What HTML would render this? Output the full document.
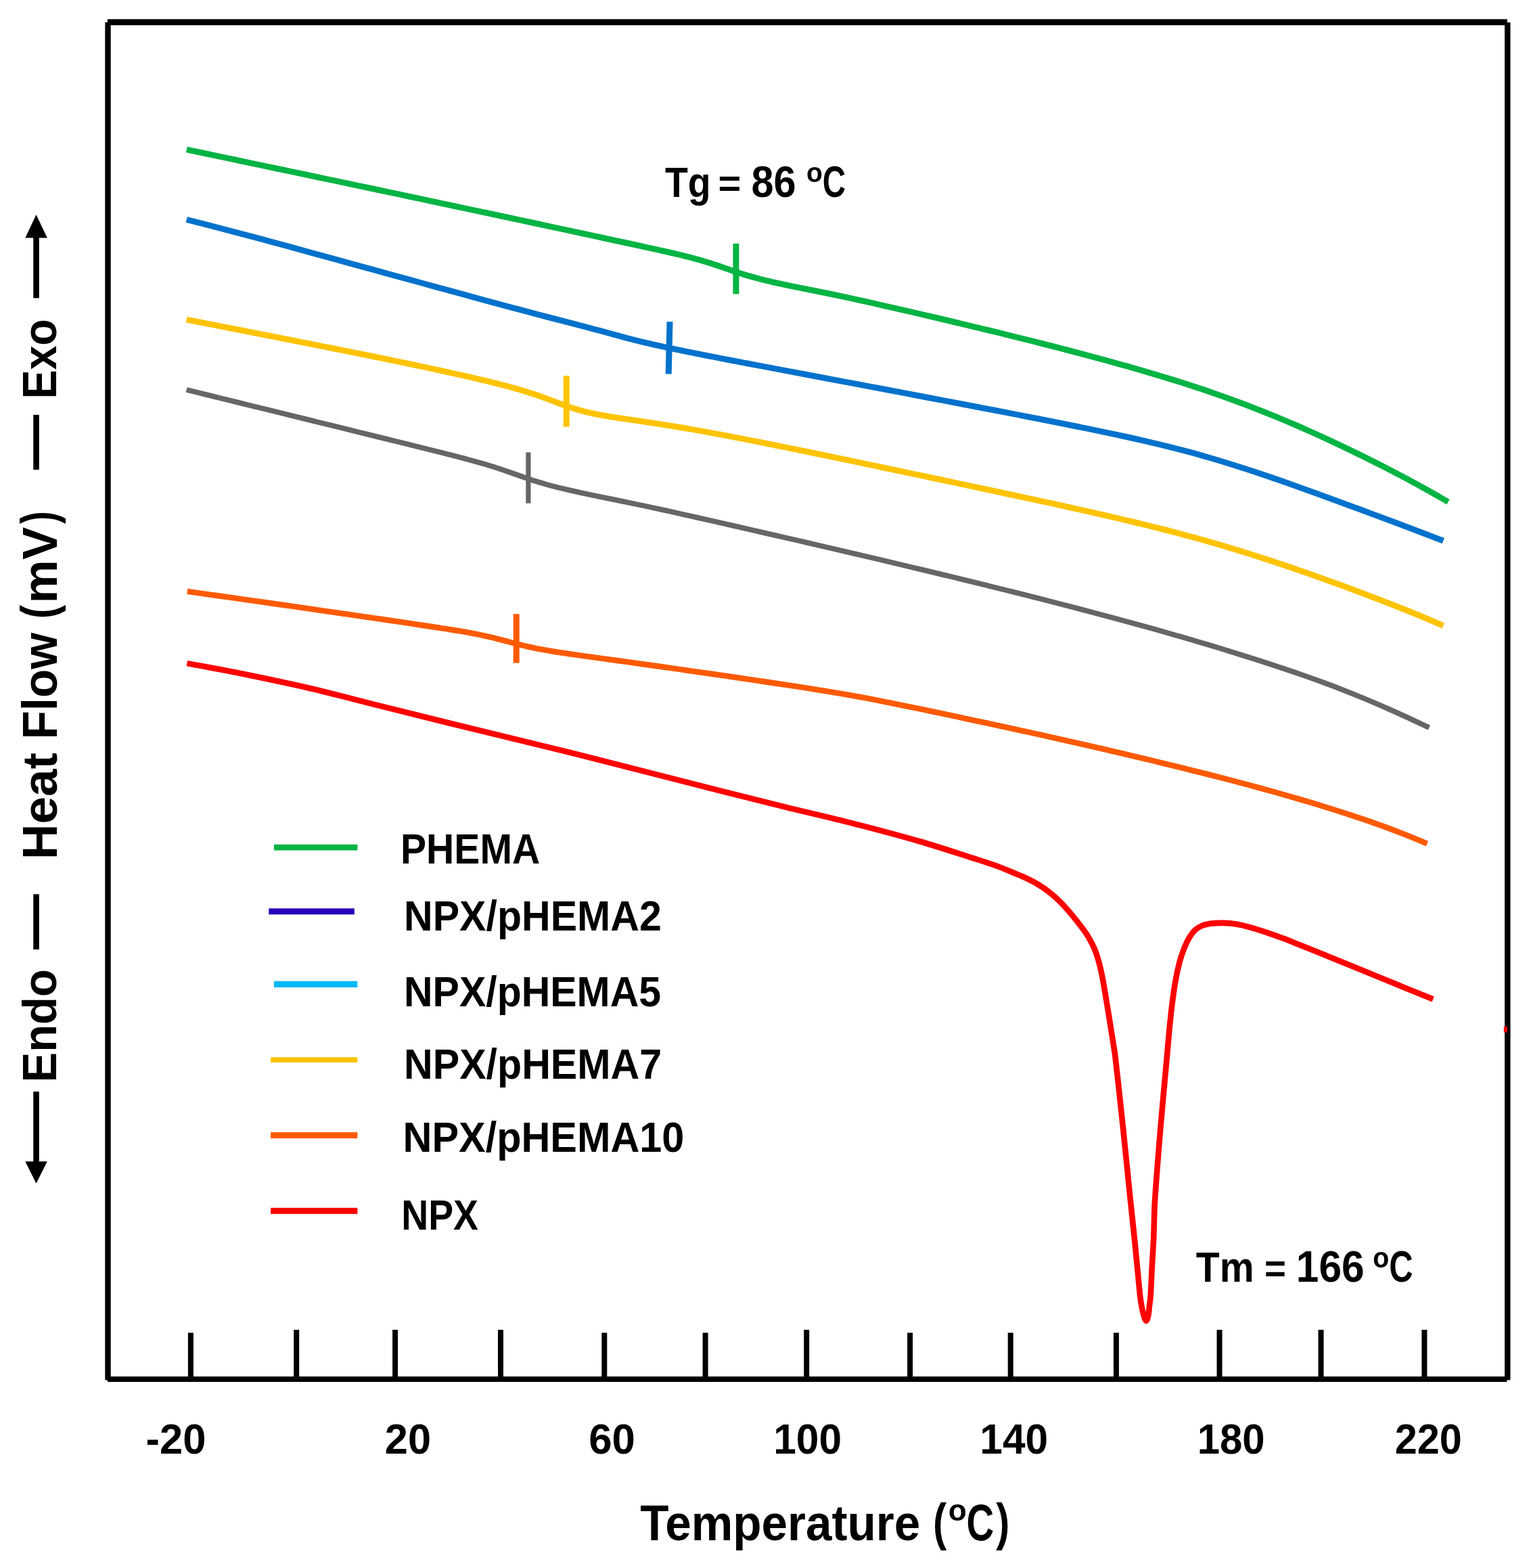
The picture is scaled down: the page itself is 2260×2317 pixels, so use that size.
<!DOCTYPE html>
<html lang="en"><head><meta charset="utf-8"><title>DSC thermograms</title>
<style>html,body{margin:0;padding:0;background:#fff}body{width:2260px;height:2317px;overflow:hidden}svg{display:block}text{font-family:"Liberation Sans",Arial,sans-serif;font-weight:bold;fill:#000}</style>
</head><body>
<svg width="2260" height="2317" viewBox="0 0 2260 2317">
<rect width="2260" height="2317" fill="#fff"/>
<g fill="none" stroke-linejoin="round" stroke-linecap="butt">
<path d="M275.80,221.04 C286.34,223.25 296.87,225.46 307.41,227.67 C317.94,229.88 328.48,232.09 339.01,234.30 C349.55,236.51 360.08,238.73 370.62,240.94 C381.15,243.15 391.69,245.37 402.22,247.58 C412.76,249.80 423.29,252.01 433.83,254.23 C444.36,256.44 454.90,258.66 465.43,260.88 C475.97,263.10 486.50,265.32 497.04,267.54 C507.57,269.76 518.11,271.99 528.64,274.21 C539.18,276.43 549.71,278.66 560.25,280.89 C570.78,283.11 581.32,285.34 591.85,287.57 C602.39,289.80 612.92,292.03 623.46,294.27 C633.99,296.50 644.53,298.74 655.06,300.97 C665.60,303.21 676.13,305.45 686.67,307.69 C697.20,309.93 707.74,312.17 718.27,314.42 C728.81,316.66 739.34,318.91 749.88,321.16 C760.41,323.41 770.95,325.66 781.48,327.92 C792.02,330.17 802.55,332.43 813.09,334.69 C823.62,336.95 834.16,339.21 844.69,341.48 C855.23,343.74 865.76,346.01 876.30,348.27 C886.83,350.54 897.37,352.81 907.90,355.09 C918.44,357.36 928.97,359.63 939.51,361.92 C948.97,363.98 958.44,366.05 967.90,368.13 C968.97,368.36 970.04,368.60 971.11,368.84 C973.37,369.34 975.64,369.84 977.90,370.35 C981.23,371.10 984.57,371.84 987.90,372.60 C991.24,373.37 994.57,374.14 997.90,374.91 C999.51,375.29 1001.11,375.67 1002.72,376.05 C1004.45,376.46 1006.17,376.87 1007.90,377.30 C1011.24,378.12 1014.57,378.94 1017.90,379.79 C1021.24,380.65 1024.57,381.54 1027.90,382.43 C1030.05,383.01 1032.18,383.62 1034.32,384.22 C1035.52,384.56 1036.71,384.90 1037.90,385.26 C1041.24,386.25 1044.58,387.24 1047.90,388.28 C1051.24,389.33 1054.57,390.42 1057.90,391.51 C1060.58,392.40 1063.25,393.32 1065.93,394.23 C1066.59,394.45 1067.24,394.68 1067.90,394.90 C1071.23,396.05 1074.56,397.21 1077.90,398.36 C1081.23,399.50 1084.56,400.65 1087.90,401.76 C1091.10,402.83 1094.32,403.86 1097.53,404.90 C1097.65,404.94 1097.78,404.98 1097.90,405.02 C1101.23,406.03 1104.56,407.08 1107.90,408.05 C1111.22,409.02 1114.56,409.95 1117.90,410.85 C1121.22,411.75 1124.57,412.58 1127.90,413.44 C1128.31,413.54 1128.72,413.64 1129.14,413.74 C1132.06,414.45 1134.97,415.16 1137.90,415.84 C1141.23,416.61 1144.56,417.36 1147.90,418.10 C1151.23,418.84 1154.57,419.55 1157.90,420.26 C1158.85,420.47 1159.79,420.66 1160.74,420.86 C1163.13,421.36 1165.51,421.86 1167.90,422.35 C1171.23,423.04 1174.57,423.71 1177.90,424.39 C1181.23,425.07 1184.57,425.73 1187.90,426.40 C1189.38,426.70 1190.86,427.00 1192.35,427.29 C1194.20,427.66 1196.05,428.03 1197.90,428.40 C1201.23,429.07 1204.57,429.73 1207.90,430.40 C1213.25,431.48 1218.61,432.54 1223.95,433.65 C1234.49,435.83 1245.03,438.02 1255.56,440.30 C1266.10,442.57 1276.63,444.93 1287.16,447.29 C1297.70,449.66 1308.24,452.06 1318.77,454.47 C1329.31,456.89 1339.84,459.32 1350.37,461.76 C1360.91,464.20 1371.45,466.66 1381.98,469.13 C1392.52,471.61 1403.05,474.10 1413.58,476.60 C1424.12,479.11 1434.66,481.63 1445.19,484.17 C1455.73,486.71 1466.26,489.27 1476.79,491.85 C1487.33,494.44 1497.87,497.04 1508.40,499.66 C1518.94,502.29 1529.47,504.94 1540.00,507.62 C1550.54,510.29 1561.08,513.00 1571.61,515.73 C1582.15,518.47 1592.69,521.23 1603.21,524.03 C1613.76,526.84 1624.29,529.67 1634.82,532.55 C1645.36,535.44 1655.90,538.36 1666.42,541.34 C1676.97,544.32 1687.51,547.35 1698.03,550.45 C1708.58,553.55 1719.12,556.71 1729.63,559.95 C1740.19,563.21 1750.73,566.53 1761.24,569.95 C1771.80,573.39 1782.34,576.91 1792.84,580.54 C1803.41,584.20 1813.95,587.95 1824.45,591.81 C1835.02,595.70 1845.56,599.70 1856.05,603.80 C1866.63,607.93 1877.17,612.17 1887.66,616.51 C1898.24,620.88 1908.77,625.35 1919.26,629.91 C1929.84,634.51 1940.37,639.20 1950.87,643.97 C1961.44,648.78 1971.98,653.68 1982.47,658.66 C1993.05,663.68 2003.59,668.78 2014.08,673.96 C2024.66,679.18 2035.19,684.49 2045.68,689.88 C2056.26,695.31 2066.80,700.83 2077.29,706.44 C2087.87,712.10 2098.41,717.85 2108.89,723.69 C2119.48,729.60 2129.96,735.69 2140.50,741.68" stroke="#04B444" stroke-width="8.8"/>
<path d="M1087.90,359.90 L1087.90,434.50" stroke="#04B444" stroke-width="9.0"/>
<path d="M275.80,324.50 C286.29,327.17 296.79,329.83 307.28,332.53 C317.78,335.22 328.28,337.91 338.77,340.65 C349.27,343.39 359.76,346.17 370.25,348.97 C380.75,351.78 391.24,354.64 401.73,357.49 C412.23,360.35 422.72,363.22 433.22,366.09 C443.71,368.96 454.20,371.84 464.70,374.71 C475.19,377.59 485.69,380.46 496.18,383.34 C506.68,386.22 517.17,389.10 527.66,391.97 C538.16,394.85 548.65,397.73 559.15,400.61 C569.64,403.49 580.14,406.37 590.63,409.25 C601.12,412.12 611.62,415.00 622.11,417.88 C632.61,420.75 643.10,423.63 653.60,426.50 C664.09,429.37 674.58,432.23 685.08,435.10 C695.57,437.96 706.07,440.81 716.56,443.66 C727.05,446.50 737.55,449.34 748.05,452.16 C758.54,454.98 769.03,457.79 779.53,460.58 C790.02,463.36 800.51,466.13 811.01,468.87 C821.50,471.62 832.00,474.33 842.49,477.06 C851.36,479.37 860.23,481.68 869.10,484.00 C870.73,484.42 872.35,484.86 873.98,485.29 C875.69,485.74 877.39,486.19 879.10,486.65 C882.43,487.55 885.77,488.44 889.10,489.35 C892.43,490.25 895.77,491.17 899.10,492.08 C901.22,492.66 903.34,493.24 905.46,493.83 C906.67,494.16 907.89,494.49 909.10,494.83 C912.43,495.74 915.76,496.65 919.10,497.55 C922.43,498.45 925.76,499.33 929.10,500.21 C931.71,500.89 934.33,501.56 936.94,502.23 C937.66,502.41 938.38,502.59 939.10,502.77 C942.43,503.59 945.76,504.42 949.10,505.23 C952.43,506.03 955.76,506.81 959.10,507.58 C962.21,508.30 965.32,508.99 968.43,509.70 C968.65,509.75 968.88,509.80 969.10,509.85 C972.43,510.58 975.76,511.32 979.10,512.04 C982.43,512.77 985.77,513.48 989.10,514.18 C992.43,514.89 995.77,515.58 999.10,516.28 C999.37,516.33 999.64,516.39 999.91,516.44 C1002.97,517.07 1006.04,517.71 1009.10,518.33 C1012.43,519.01 1015.77,519.69 1019.10,520.36 C1022.43,521.03 1025.77,521.70 1029.10,522.36 C1029.86,522.52 1030.63,522.67 1031.39,522.82 C1033.96,523.33 1036.53,523.84 1039.10,524.35 C1042.43,525.00 1045.77,525.66 1049.10,526.31 C1052.43,526.96 1055.77,527.61 1059.10,528.26 C1060.36,528.51 1061.62,528.75 1062.88,529.00 C1064.95,529.40 1067.03,529.80 1069.10,530.20 C1072.43,530.85 1075.77,531.49 1079.10,532.13 C1082.43,532.77 1085.77,533.41 1089.10,534.05 C1090.85,534.39 1092.61,534.72 1094.36,535.06 C1095.94,535.36 1097.52,535.66 1099.10,535.96 C1102.43,536.60 1105.77,537.23 1109.10,537.87 C1114.68,538.93 1120.26,539.99 1125.84,541.05 C1136.34,543.03 1146.83,545.02 1157.33,547.00 C1167.82,548.98 1178.31,550.95 1188.81,552.93 C1199.30,554.90 1209.80,556.88 1220.29,558.85 C1230.79,560.83 1241.28,562.80 1251.77,564.78 C1262.27,566.75 1272.76,568.73 1283.26,570.71 C1293.75,572.69 1304.25,574.67 1314.74,576.65 C1325.24,578.64 1335.73,580.62 1346.22,582.61 C1356.72,584.60 1367.21,586.59 1377.71,588.59 C1388.20,590.59 1398.70,592.58 1409.19,594.59 C1419.68,596.59 1430.18,598.60 1440.67,600.61 C1451.17,602.62 1461.66,604.64 1472.16,606.66 C1482.65,608.69 1493.15,610.72 1503.64,612.76 C1514.13,614.80 1524.63,616.84 1535.12,618.90 C1545.62,620.97 1556.11,623.03 1566.61,625.13 C1577.10,627.22 1587.60,629.32 1598.09,631.46 C1608.59,633.59 1619.08,635.74 1629.57,637.94 C1640.07,640.15 1650.57,642.37 1661.05,644.67 C1671.56,646.97 1682.06,649.30 1692.54,651.73 C1703.05,654.16 1713.55,656.65 1724.02,659.25 C1734.54,661.86 1745.04,664.55 1755.50,667.35 C1766.03,670.17 1776.52,673.10 1786.99,676.13 C1797.51,679.18 1808.00,682.34 1818.47,685.59 C1828.99,688.86 1839.48,692.24 1849.95,695.68 C1860.47,699.14 1870.96,702.70 1881.44,706.29 C1891.95,709.90 1902.44,713.59 1912.92,717.30 C1923.43,721.02 1933.92,724.79 1944.40,728.58 C1954.91,732.38 1965.40,736.22 1975.88,740.07 C1986.39,743.92 1996.88,747.80 2007.37,751.69 C2017.87,755.59 2028.36,759.50 2038.85,763.42 C2049.35,767.35 2059.84,771.29 2070.33,775.23 C2080.83,779.18 2091.33,783.14 2101.82,787.11 C2112.31,791.08 2122.81,795.07 2133.30,799.05" stroke="#0072CC" stroke-width="8.8"/>
<path d="M990.00,475.30 L988.20,552.60" stroke="#0072CC" stroke-width="9.0"/>
<path d="M275.70,472.28 C286.19,474.33 296.69,476.38 307.18,478.43 C317.68,480.49 328.17,482.54 338.67,484.59 C349.16,486.65 359.66,488.70 370.15,490.76 C380.65,492.82 391.14,494.87 401.64,496.94 C412.13,499.00 422.63,501.06 433.12,503.13 C443.62,505.20 454.11,507.27 464.61,509.35 C475.10,511.42 485.60,513.51 496.09,515.60 C506.59,517.69 517.09,519.78 527.58,521.90 C538.08,524.01 548.57,526.12 559.06,528.26 C569.56,530.40 580.06,532.55 590.55,534.72 C601.05,536.90 611.54,539.09 622.03,541.31 C632.53,543.54 643.03,545.79 653.52,548.08 C664.02,550.37 674.52,552.69 685.00,555.08 C695.51,557.47 705.99,559.96 716.49,562.40 C716.72,562.46 716.96,562.51 717.20,562.57 C720.53,563.38 723.87,564.18 727.20,565.00 C730.54,565.81 733.87,566.64 737.20,567.48 C740.54,568.33 743.87,569.20 747.20,570.05 C747.46,570.12 747.71,570.19 747.97,570.26 C751.05,571.08 754.13,571.88 757.20,572.73 C760.54,573.64 763.87,574.57 767.20,575.54 C770.54,576.50 773.87,577.52 777.20,578.52 C777.95,578.74 778.71,578.98 779.46,579.22 C782.04,580.04 784.63,580.85 787.20,581.71 C790.54,582.82 793.88,583.95 797.20,585.12 C800.54,586.30 803.87,587.53 807.20,588.74 C808.45,589.20 809.69,589.67 810.94,590.14 C813.03,590.93 815.11,591.72 817.20,592.51 C820.53,593.77 823.86,595.05 827.20,596.29 C830.53,597.52 833.86,598.74 837.20,599.93 C838.93,600.55 840.68,601.14 842.43,601.73 C844.01,602.26 845.60,602.80 847.20,603.29 C850.52,604.32 853.85,605.35 857.20,606.29 C860.52,607.22 863.86,608.07 867.20,608.90 C869.43,609.46 871.67,609.95 873.91,610.45 C875.00,610.70 876.10,610.94 877.20,611.16 C880.53,611.84 883.86,612.51 887.20,613.14 C890.53,613.76 893.86,614.33 897.20,614.90 C899.93,615.37 902.66,615.79 905.39,616.23 C906.00,616.33 906.60,616.43 907.20,616.52 C910.53,617.03 913.87,617.54 917.20,618.04 C920.53,618.54 923.87,619.03 927.20,619.52 C930.43,619.99 933.65,620.46 936.88,620.93 C936.99,620.95 937.09,620.96 937.20,620.98 C940.53,621.47 943.87,621.95 947.20,622.44 C950.53,622.93 953.87,623.43 957.20,623.93 C960.92,624.48 964.65,625.03 968.36,625.62 C978.86,627.27 989.36,628.90 999.85,630.63 C1010.35,632.37 1020.85,634.18 1031.33,636.03 C1041.84,637.88 1052.33,639.80 1062.82,641.75 C1073.32,643.70 1083.81,645.70 1094.30,647.73 C1104.80,649.76 1115.30,651.82 1125.79,653.90 C1136.29,655.98 1146.78,658.09 1157.27,660.21 C1167.77,662.34 1178.27,664.48 1188.76,666.63 C1199.25,668.78 1209.75,670.95 1220.24,673.12 C1230.74,675.29 1241.23,677.47 1251.73,679.65 C1262.22,681.84 1272.72,684.03 1283.21,686.23 C1293.71,688.42 1304.20,690.63 1314.70,692.83 C1325.19,695.03 1335.69,697.24 1346.18,699.45 C1356.68,701.67 1367.17,703.88 1377.67,706.10 C1388.16,708.31 1398.66,710.53 1409.15,712.76 C1419.65,714.98 1430.14,717.21 1440.64,719.44 C1451.13,721.67 1461.63,723.91 1472.12,726.15 C1482.62,728.39 1493.11,730.64 1503.61,732.89 C1514.10,735.15 1524.60,737.41 1535.09,739.68 C1545.59,741.96 1556.08,744.24 1566.57,746.55 C1577.07,748.85 1587.57,751.17 1598.06,753.51 C1608.56,755.86 1619.06,758.22 1629.54,760.61 C1640.05,763.02 1650.54,765.44 1661.03,767.91 C1671.53,770.39 1682.03,772.90 1692.51,775.47 C1703.02,778.05 1713.52,780.67 1724.00,783.37 C1734.51,786.07 1745.01,788.83 1755.48,791.67 C1766.00,794.51 1776.49,797.43 1786.97,800.43 C1797.48,803.43 1807.98,806.52 1818.45,809.68 C1828.97,812.85 1839.46,816.10 1849.94,819.42 C1860.45,822.75 1870.95,826.15 1881.42,829.61 C1891.94,833.09 1902.43,836.63 1912.91,840.22 C1923.42,843.82 1933.91,847.48 1944.39,851.19 C1954.90,854.91 1965.40,858.68 1975.88,862.49 C1986.39,866.32 1996.88,870.19 2007.36,874.11 C2017.87,878.05 2028.37,882.03 2038.85,886.07 C2049.36,890.13 2059.86,894.23 2070.33,898.40 C2080.85,902.60 2091.35,906.84 2101.82,911.18 C2112.34,915.54 2122.81,920.06 2133.30,924.50" stroke="#FFC300" stroke-width="8.8"/>
<path d="M837.20,555.30 L837.20,630.70" stroke="#FFC300" stroke-width="9.0"/>
<path d="M275.70,576.00 C286.08,578.55 296.45,581.09 306.83,583.64 C317.21,586.19 327.58,588.74 337.96,591.29 C348.34,593.84 358.71,596.39 369.09,598.94 C379.47,601.48 389.85,604.03 400.22,606.58 C410.60,609.14 420.98,611.69 431.35,614.24 C441.73,616.79 452.11,619.34 462.48,621.89 C472.86,624.44 483.24,627.00 493.61,629.55 C503.99,632.10 514.37,634.66 524.74,637.21 C535.12,639.76 545.50,642.32 555.87,644.88 C566.25,647.43 576.63,649.99 587.01,652.55 C597.38,655.11 607.76,657.67 618.14,660.24 C628.51,662.82 638.89,665.40 649.27,667.99 C653.15,668.96 657.02,669.94 660.90,670.93 C664.23,671.77 667.57,672.62 670.90,673.48 C674.07,674.29 677.23,675.11 680.40,675.93 C680.56,675.98 680.73,676.02 680.90,676.06 C684.23,676.95 687.57,677.82 690.90,678.71 C694.24,679.60 697.57,680.51 700.90,681.43 C704.24,682.35 707.57,683.31 710.90,684.25 C711.11,684.31 711.32,684.37 711.53,684.43 C714.65,685.35 717.78,686.26 720.90,687.20 C724.24,688.22 727.57,689.25 730.90,690.31 C734.24,691.38 737.57,692.49 740.90,693.58 C741.49,693.77 742.07,693.97 742.66,694.17 C745.41,695.11 748.16,696.05 750.90,697.00 C754.24,698.16 757.57,699.34 760.90,700.52 C764.23,701.69 767.57,702.87 770.90,704.05 C771.86,704.38 772.82,704.72 773.79,705.05 C776.16,705.87 778.52,706.70 780.90,707.49 C784.23,708.60 787.56,709.71 790.90,710.77 C794.22,711.83 797.56,712.84 800.90,713.85 C802.24,714.25 803.58,714.64 804.92,715.02 C806.91,715.59 808.90,716.16 810.90,716.70 C814.23,717.60 817.56,718.49 820.90,719.35 C824.23,720.20 827.56,721.01 830.90,721.83 C832.61,722.24 834.33,722.65 836.05,723.05 C837.67,723.43 839.28,723.80 840.90,724.17 C844.23,724.93 847.56,725.68 850.90,726.42 C854.23,727.15 857.57,727.87 860.90,728.59 C862.99,729.04 865.09,729.48 867.18,729.93 C868.42,730.19 869.66,730.45 870.90,730.71 C874.23,731.41 877.57,732.10 880.90,732.80 C884.23,733.49 887.57,734.17 890.90,734.86 C893.37,735.37 895.84,735.87 898.31,736.38 C899.17,736.56 900.04,736.73 900.90,736.91 C910.41,738.86 919.93,740.79 929.44,742.76 C939.82,744.91 950.20,747.06 960.57,749.27 C970.96,751.49 981.33,753.77 991.70,756.06 C1002.09,758.35 1012.46,760.69 1022.83,763.03 C1033.21,765.37 1043.59,767.72 1053.96,770.07 C1064.34,772.43 1074.72,774.79 1085.09,777.15 C1095.47,779.52 1105.85,781.89 1116.22,784.26 C1126.60,786.63 1136.98,789.01 1147.35,791.39 C1157.73,793.77 1168.11,796.16 1178.48,798.55 C1188.86,800.95 1199.24,803.35 1209.62,805.75 C1219.99,808.15 1230.37,810.56 1240.75,812.98 C1251.12,815.40 1261.50,817.82 1271.88,820.26 C1282.25,822.69 1292.63,825.13 1303.01,827.57 C1313.39,830.02 1323.76,832.48 1334.14,834.94 C1344.52,837.41 1354.89,839.88 1365.27,842.37 C1375.65,844.86 1386.02,847.35 1396.40,849.86 C1406.78,852.36 1417.15,854.88 1427.53,857.41 C1437.91,859.95 1448.29,862.49 1458.66,865.05 C1469.04,867.61 1479.42,870.18 1489.79,872.76 C1500.17,875.35 1510.55,877.96 1520.92,880.58 C1531.30,883.20 1541.68,885.84 1552.05,888.50 C1562.43,891.15 1572.81,893.83 1583.18,896.53 C1593.56,899.23 1603.94,901.95 1614.31,904.69 C1624.69,907.44 1635.07,910.21 1645.44,913.00 C1655.83,915.80 1666.20,918.62 1676.57,921.47 C1686.96,924.32 1697.34,927.20 1707.70,930.11 C1718.09,933.03 1728.47,935.98 1738.83,938.96 C1749.22,941.94 1759.60,944.96 1769.96,948.02 C1780.35,951.08 1790.73,954.18 1801.09,957.32 C1811.48,960.47 1821.86,963.66 1832.23,966.90 C1842.62,970.14 1853.00,973.43 1863.36,976.77 C1873.75,980.13 1884.13,983.52 1894.49,986.99 C1904.88,990.47 1915.27,993.99 1925.62,997.60 C1936.02,1001.23 1946.41,1004.91 1956.75,1008.73 C1967.16,1012.57 1977.55,1016.51 1987.88,1020.58 C1998.30,1024.68 2008.67,1028.91 2019.01,1033.23 C2029.43,1037.58 2039.80,1042.04 2050.14,1046.59 C2060.56,1051.17 2070.94,1055.84 2081.27,1060.61 C2091.69,1065.42 2102.02,1070.43 2112.40,1075.34" stroke="#666666" stroke-width="7.8"/>
<path d="M780.90,668.40 L780.90,743.70" stroke="#666666" stroke-width="7.2"/>
<path d="M276.80,873.92 C287.15,875.38 297.51,876.84 307.86,878.30 C318.22,879.76 328.57,881.22 338.93,882.68 C349.28,884.15 359.63,885.62 369.99,887.09 C380.34,888.56 390.70,890.03 401.05,891.51 C411.41,892.98 421.76,894.46 432.11,895.94 C442.47,897.43 452.82,898.91 463.18,900.40 C473.53,901.89 483.89,903.38 494.24,904.88 C504.59,906.37 514.95,907.87 525.30,909.38 C535.66,910.88 546.01,912.39 556.36,913.90 C566.72,915.41 577.07,916.93 587.43,918.45 C597.78,919.98 608.14,921.51 618.49,923.05 C626.73,924.28 634.96,925.53 643.20,926.77 C645.32,927.09 647.44,927.42 649.55,927.74 C650.77,927.93 651.98,928.12 653.20,928.31 C656.53,928.83 659.87,929.34 663.20,929.87 C666.53,930.40 669.87,930.94 673.20,931.48 C675.67,931.89 678.14,932.30 680.62,932.71 C681.48,932.86 682.34,933.00 683.20,933.15 C686.53,933.73 689.87,934.31 693.20,934.91 C696.54,935.52 699.87,936.14 703.20,936.79 C706.03,937.34 708.85,937.93 711.68,938.50 C712.19,938.61 712.69,938.71 713.20,938.82 C716.53,939.56 719.87,940.27 723.20,941.04 C726.54,941.82 729.87,942.63 733.20,943.46 C736.39,944.25 739.56,945.10 742.74,945.92 C742.89,945.96 743.05,946.00 743.20,946.04 C746.53,946.93 749.87,947.82 753.20,948.71 C756.53,949.59 759.86,950.49 763.20,951.35 C766.53,952.20 769.87,953.02 773.20,953.86 C773.40,953.91 773.60,953.95 773.80,954.00 C776.94,954.72 780.06,955.48 783.20,956.17 C786.53,956.90 789.86,957.59 793.20,958.26 C796.53,958.92 799.87,959.53 803.20,960.15 C803.75,960.26 804.31,960.35 804.87,960.45 C807.64,960.93 810.42,961.42 813.20,961.88 C816.53,962.44 819.86,962.97 823.20,963.49 C826.53,964.02 829.87,964.51 833.20,965.02 C834.11,965.16 835.02,965.29 835.93,965.42 C838.35,965.78 840.78,966.13 843.20,966.48 C846.53,966.96 849.87,967.44 853.20,967.91 C856.53,968.38 859.87,968.85 863.20,969.32 C864.46,969.49 865.73,969.67 866.99,969.84 C869.06,970.13 871.13,970.42 873.20,970.70 C876.53,971.17 879.87,971.63 883.20,972.09 C888.15,972.77 893.10,973.45 898.05,974.13 C908.41,975.56 918.76,976.99 929.12,978.42 C939.47,979.86 949.83,981.30 960.18,982.75 C970.53,984.20 980.89,985.65 991.24,987.12 C1001.60,988.58 1011.95,990.05 1022.31,991.54 C1032.66,993.02 1043.01,994.51 1053.37,996.01 C1063.72,997.51 1074.08,999.01 1084.43,1000.53 C1094.79,1002.05 1105.14,1003.58 1115.49,1005.11 C1125.85,1006.65 1136.20,1008.20 1146.56,1009.75 C1156.91,1011.31 1167.27,1012.88 1177.62,1014.46 C1187.98,1016.05 1198.33,1017.64 1208.68,1019.28 C1219.04,1020.92 1229.40,1022.56 1239.74,1024.31 C1250.11,1026.07 1260.47,1027.89 1270.81,1029.80 C1281.18,1031.72 1291.52,1033.76 1301.87,1035.80 C1312.23,1037.85 1322.58,1039.97 1332.93,1042.08 C1343.29,1044.19 1353.64,1046.34 1363.99,1048.48 C1374.35,1050.63 1384.71,1052.80 1395.06,1054.97 C1405.41,1057.15 1415.77,1059.34 1426.12,1061.54 C1436.48,1063.74 1446.83,1065.95 1457.18,1068.18 C1467.54,1070.41 1477.89,1072.65 1488.25,1074.90 C1498.60,1077.16 1508.96,1079.42 1519.31,1081.70 C1529.67,1083.99 1540.02,1086.28 1550.37,1088.59 C1560.73,1090.91 1571.08,1093.23 1581.43,1095.57 C1591.79,1097.92 1602.15,1100.28 1612.50,1102.65 C1622.85,1105.03 1633.21,1107.42 1643.56,1109.83 C1653.92,1112.24 1664.27,1114.67 1674.62,1117.12 C1684.98,1119.58 1695.34,1122.05 1705.68,1124.54 C1716.04,1127.04 1726.40,1129.55 1736.75,1132.09 C1747.11,1134.64 1757.46,1137.20 1767.81,1139.80 C1778.17,1142.40 1788.53,1145.02 1798.87,1147.68 C1809.24,1150.34 1819.59,1153.03 1829.94,1155.76 C1840.30,1158.50 1850.66,1161.27 1861.00,1164.08 C1871.36,1166.90 1881.72,1169.76 1892.06,1172.68 C1902.43,1175.60 1912.79,1178.56 1923.12,1181.59 C1933.50,1184.64 1943.85,1187.73 1954.19,1190.90 C1964.56,1194.09 1974.92,1197.33 1985.25,1200.67 C1995.63,1204.03 2005.99,1207.46 2016.31,1211.01 C2026.70,1214.58 2037.06,1218.23 2047.37,1222.02 C2057.77,1225.84 2068.14,1229.76 2078.44,1233.85 C2088.85,1237.99 2099.15,1242.41 2109.50,1246.69" stroke="#FF5A00" stroke-width="8.4"/>
<path d="M763.20,907.30 L763.20,979.70" stroke="#FF5A00" stroke-width="9"/>
<path d="M276.40,980.10 C304.27,985.40 332.21,990.34 360.00,996.00 C393.41,1002.81 426.80,1009.75 460.00,1017.50 C493.47,1025.32 526.65,1034.36 560.00,1042.70 C593.32,1051.03 626.65,1059.32 660.00,1067.50 C726.65,1083.85 793.42,1099.69 860.00,1116.30 C926.75,1132.95 993.31,1150.38 1060.00,1167.30 C1093.31,1175.75 1126.63,1184.17 1160.00,1192.40 C1193.30,1200.61 1226.77,1208.11 1260.00,1216.60 C1293.44,1225.14 1326.84,1233.92 1360.00,1243.50 C1386.84,1251.26 1413.38,1260.09 1440.00,1268.60 C1451.25,1272.19 1462.52,1275.75 1473.60,1279.80 C1482.52,1283.05 1491.22,1286.88 1500.00,1290.50 C1505.62,1292.82 1511.32,1294.99 1516.80,1297.60 C1522.52,1300.32 1528.18,1303.24 1533.60,1306.50 C1539.38,1309.97 1545.09,1313.66 1550.40,1317.80 C1556.29,1322.39 1561.92,1327.42 1567.20,1332.70 C1573.12,1338.62 1578.62,1344.98 1584.00,1351.40 C1589.82,1358.35 1595.40,1365.52 1600.80,1372.80 C1603.80,1376.85 1606.67,1381.04 1609.20,1385.40 C1612.27,1390.71 1615.18,1396.17 1617.60,1401.80 C1619.95,1407.27 1621.85,1412.97 1623.50,1418.70 C1625.52,1425.71 1627.17,1432.84 1628.60,1440.00 C1630.94,1451.71 1632.80,1463.52 1634.80,1475.30 C1636.70,1486.49 1638.50,1497.69 1640.30,1508.90 C1642.10,1520.09 1643.85,1531.30 1645.60,1542.50 C1646.51,1548.33 1647.62,1554.14 1648.30,1560.00 C1652.35,1594.97 1656.10,1629.99 1659.80,1665.00 C1663.67,1701.65 1667.22,1738.34 1671.00,1775.00 C1672.85,1792.91 1674.86,1810.79 1676.70,1828.70 C1678.36,1844.93 1679.91,1861.17 1681.50,1877.40 C1682.77,1890.37 1683.85,1903.36 1685.30,1916.30 C1685.81,1920.89 1686.58,1925.46 1687.40,1930.00 C1688.01,1933.36 1688.79,1936.69 1689.60,1940.00 C1690.22,1942.55 1690.77,1945.16 1691.70,1947.60 C1692.27,1949.10 1693.31,1951.80 1694.10,1951.80 C1694.88,1951.80 1695.92,1949.10 1696.40,1947.60 C1697.18,1945.17 1697.54,1942.55 1697.90,1940.00 C1698.37,1936.69 1698.52,1933.33 1698.90,1930.00 C1699.42,1925.43 1700.29,1920.89 1700.60,1916.30 C1701.49,1903.36 1701.82,1890.36 1702.50,1877.40 C1703.35,1861.16 1704.49,1844.94 1705.20,1828.70 C1705.99,1810.81 1705.88,1792.87 1707.00,1775.00 C1709.31,1738.30 1712.43,1701.65 1715.50,1665.00 C1718.43,1629.98 1721.86,1595.00 1725.00,1560.00 C1726.09,1547.84 1727.02,1535.66 1728.20,1523.50 C1729.35,1511.66 1730.55,1499.81 1732.00,1488.00 C1733.48,1475.98 1734.95,1463.93 1737.00,1452.00 C1738.68,1442.20 1740.67,1432.41 1743.20,1422.80 C1745.17,1415.34 1747.69,1407.98 1750.50,1400.80 C1752.56,1395.55 1754.89,1390.31 1757.80,1385.50 C1760.26,1381.44 1763.16,1377.40 1766.60,1374.20 C1769.46,1371.54 1773.08,1369.41 1776.70,1367.90 C1780.65,1366.25 1785.02,1365.24 1789.30,1364.70 C1795.52,1363.91 1801.91,1363.78 1808.20,1363.90 C1814.51,1364.02 1820.87,1364.43 1827.10,1365.40 C1833.51,1366.40 1839.84,1368.07 1846.10,1369.80 C1854.57,1372.14 1862.96,1374.82 1871.30,1377.60 C1879.76,1380.42 1888.15,1383.45 1896.50,1386.60 C1904.95,1389.79 1913.31,1393.24 1921.70,1396.60 C1934.48,1401.71 1947.25,1406.83 1960.00,1412.00 C1981.35,1420.66 2002.67,1429.39 2024.00,1438.10 C2039.34,1444.36 2054.67,1450.63 2070.00,1456.90 C2086.07,1463.47 2102.13,1470.03 2118.20,1476.60" stroke="#FF0000" stroke-width="8.6"/>
</g>
<g fill="#000">
<rect x="155.30" y="33.00" width="8.40" height="2006.40"/>
<rect x="158.80" y="28.30" width="2069.00" height="9.00"/>
<rect x="2224.00" y="33.20" width="8.50" height="2006.10"/>
<rect x="159.00" y="2034.00" width="2068.40" height="8.00"/>
<rect x="277.90" y="1969.40" width="8.00" height="68.60"/>
<rect x="434.20" y="1965.00" width="8.00" height="73.00"/>
<rect x="580.10" y="1965.00" width="8.00" height="73.00"/>
<rect x="736.00" y="1965.00" width="8.00" height="73.00"/>
<rect x="889.30" y="1969.40" width="8.00" height="68.60"/>
<rect x="1038.60" y="1969.40" width="8.00" height="68.60"/>
<rect x="1188.20" y="1965.00" width="8.00" height="73.00"/>
<rect x="1341.10" y="1969.40" width="8.00" height="68.60"/>
<rect x="1489.70" y="1969.40" width="8.00" height="68.60"/>
<rect x="1645.90" y="1969.40" width="8.00" height="68.60"/>
<rect x="1798.50" y="1965.00" width="8.00" height="73.00"/>
<rect x="1948.50" y="1965.00" width="8.00" height="73.00"/>
<rect x="2101.40" y="1965.00" width="8.00" height="73.00"/>
</g>
<g>
<rect x="405.00" y="1247.85" width="123.40" height="8.70" fill="#04B444"/>
<rect x="397.30" y="1342.30" width="126.50" height="9.00" fill="#2A00B8"/>
<rect x="405.00" y="1449.75" width="123.40" height="9.30" fill="#00B8F8"/>
<rect x="400.10" y="1562.20" width="128.30" height="7.80" fill="#FFC300"/>
<rect x="400.10" y="1673.10" width="128.30" height="9.00" fill="#FF5A00"/>
<rect x="400.10" y="1784.80" width="128.30" height="9.00" fill="#FF0000"/>
</g>
<rect x="2222.8" y="1517" width="5" height="8.5" fill="#FF0000"/>
<path d="M53.5,317.3 L69.8,351.4 H57.8 V440.6 H49.3 V351.4 H37.3 Z" fill="#000"/>
<rect x="49.3" y="612.9" width="8.5" height="81.2" fill="#000"/>
<rect x="49.3" y="1321.3" width="8.5" height="81.7" fill="#000"/>
<path d="M53.5,1748.7 L69.8,1716.2 H57.8 V1612.9 H49.3 V1716.2 H37.3 Z" fill="#000"/>
<g>
<g><text transform="matrix(0.30769 0 0 0.31323 215.62 2148.07)" font-size="200">-20</text></g>
<g><text transform="matrix(0.30688 0 0 0.31323 568.75 2148.07)" font-size="200">20</text></g>
<g><text transform="matrix(0.30870 0 0 0.31323 870.16 2148.07)" font-size="200">60</text></g>
<g><text transform="matrix(0.30192 0 0 0.31323 1143.23 2148.07)" font-size="200">100</text></g>
<g><text transform="matrix(0.30192 0 0 0.31323 1448.33 2148.07)" font-size="200">140</text></g>
<g><text transform="matrix(0.29936 0 0 0.31323 1769.76 2148.07)" font-size="200">180</text></g>
<g><text transform="matrix(0.29670 0 0 0.31323 2061.82 2148.07)" font-size="200">220</text></g>
<g><text transform="matrix(0.34603 0 0 0.37091 946.22 2276.00)" font-size="200">Temperature</text><text transform="matrix(0.30222 0 0 0.37534 1379.08 2274.72)" font-size="200">(</text><text transform="matrix(0.22066 0 0 0.22374 1401.79 2247.25)" font-size="200">o</text><text transform="matrix(0.28145 0 0 0.37672 1428.48 2276.25)" font-size="200">C</text><text transform="matrix(0.30088 0 0 0.37534 1472.32 2274.72)" font-size="200">)</text></g>
<g><text transform="matrix(0.28539 0 0 0.31927 592.05 1276.20)" font-size="200">PHEMA</text></g>
<g><text transform="matrix(0.29546 0 0 0.31127 597.01 1374.60)" font-size="200">NPX/pHEMA2</text></g>
<g><text transform="matrix(0.29488 0 0 0.31127 597.02 1486.50)" font-size="200">NPX/pHEMA5</text></g>
<g><text transform="matrix(0.29564 0 0 0.31273 597.01 1594.40)" font-size="200">NPX/pHEMA7</text></g>
<g><text transform="matrix(0.29699 0 0 0.31418 595.59 1701.70)" font-size="200">NPX/pHEMA10</text></g>
<g><text transform="matrix(0.27644 0 0 0.31127 593.27 1816.90)" font-size="200">NPX</text></g>
<g><text transform="matrix(0.27672 0 0 0.31855 982.88 291.10)" font-size="200">Tg</text><text transform="matrix(0.28928 0 0 0.27550 1061.41 290.05)" font-size="200">=</text><text transform="matrix(0.29713 0 0 0.32240 1110.54 291.36)" font-size="200">86</text><text transform="matrix(0.19531 0 0 0.20731 1191.89 268.59)" font-size="200">o</text><text transform="matrix(0.23709 0 0 0.32099 1215.64 291.36)" font-size="200">C</text></g>
<g><text transform="matrix(0.28616 0 0 0.31636 1767.86 1893.80)" font-size="200">Tm</text><text transform="matrix(0.27332 0 0 0.28609 1869.05 1894.05)" font-size="200">=</text><text transform="matrix(0.30191 0 0 0.31958 1915.83 1894.16)" font-size="200">166</text><text transform="matrix(0.19624 0 0 0.21461 2029.28 1873.07)" font-size="200">o</text><text transform="matrix(0.24474 0 0 0.31958 2053.28 1894.16)" font-size="200">C</text></g>
<g><text transform="matrix(0 -0.32214 0.35418 0 83.40 589.55)" font-size="200">Exo</text></g>
<g><text transform="matrix(0 -0.36385 0.36000 0 83.90 1270.01)" font-size="200">Heat</text><text transform="matrix(0 -0.34599 0.36000 0 83.90 1092.47)" font-size="200">Flow</text><text transform="matrix(0 -0.30756 0.35979 0 81.87 914.58)" font-size="200">(</text><text transform="matrix(0 -0.36155 0.36073 0 84.20 891.39)" font-size="200">mV</text><text transform="matrix(0 -0.28142 0.35979 0 81.87 773.97)" font-size="200">)</text></g>
<g><text transform="matrix(0 -0.33459 0.35564 0 83.40 1599.42)" font-size="200">Endo</text></g>
</g>
</svg>
</body></html>
